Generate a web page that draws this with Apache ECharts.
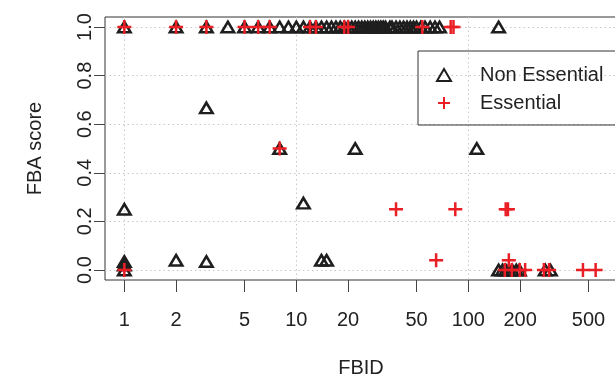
<!DOCTYPE html>
<html>
<head>
<meta charset="utf-8">
<script src="https://cdn.jsdelivr.net/npm/echarts@6/dist/echarts.min.js"></script>
<style>
  html, body { margin: 0; padding: 0; background: #fff; }
  #chart { width: 615px; height: 375px; }
</style>
</head>
<body>
<div id="chart"></div>
<script>
// FBID (log scale) and FBA score per group
var nonEssentialIds = [
  1, 2, 3, 4, 5, 6, 7, 8, 9, 10, 11, 12, 13, 14, 15, 16, 17, 18, 19, 20,
  21, 22, 23, 24, 25, 26, 27, 28, 29, 30, 31, 32, 33, 35, 36, 38, 40, 42,
  44, 46, 48, 50, 53, 56, 60, 64, 68, 150,
  1, 1, 1, 1, 2, 3, 3, 8, 11, 14, 15, 22, 112,
  150, 158, 165, 172, 180, 190, 198, 280, 300
];
var nonEssentialScores = [
  1, 1, 1, 1, 1, 1, 1, 1, 1, 1, 1, 1, 1, 1, 1, 1, 1, 1, 1, 1,
  1, 1, 1, 1, 1, 1, 1, 1, 1, 1, 1, 1, 1, 1, 1, 1, 1, 1,
  1, 1, 1, 1, 1, 1, 1, 1, 1, 1,
  0.25, 0.035, 0.02, 0, 0.04, 0.035, 0.667, 0.5, 0.275, 0.04, 0.04, 0.5, 0.5,
  0, 0, 0, 0, 0, 0, 0, 0, 0
];
var essentialIds = [
  1, 2, 3, 5, 6, 7, 12, 13, 19, 20, 54, 79, 82,
  1, 8, 38, 84, 165, 170, 65, 172,
  163, 179, 199, 214, 275, 295, 464, 550
];
var essentialScores = [
  1, 1, 1, 1, 1, 1, 1, 1, 1, 1, 1, 1, 1,
  0, 0.5, 0.25, 0.25, 0.25, 0.25, 0.04, 0.04,
  0, 0, 0, 0, 0, 0, 0, 0
];
var xTicks = [1, 2, 5, 10, 20, 50, 100, 200, 500];
var xGrid = [1, 10, 100];
var yTicks = [0, 0.2, 0.4, 0.6, 0.8, 1.0];

function pairs(xs, ys) {
  return xs.map(function (x, i) { return [x, ys[i]]; });
}

var chart = echarts.init(document.getElementById("chart"), null, { renderer: "canvas" });
var font = "Liberation Sans";
var dotted = { color: "#c8c8c8", width: 1, type: [1.5, 3] };

var option = {
  animation: false,
  textStyle: { fontFamily: font },
  grid: {
    left: 105, top: 17, width: 512, height: 263,
    outerBoundsMode: "none", containLabel: false,
    show: true, borderColor: "#333", borderWidth: 1
  },
  legend: {
    orient: "vertical",
    left: 418, top: 51,
    padding: [14, 20, 12, 18],
    itemWidth: 14, itemHeight: 12, itemGap: 8,
    borderColor: "#333", borderWidth: 1,
    textStyle: { fontSize: 20, color: "#222", fontFamily: font, padding: [0, 0, 0, 24] },
    data: ["Non Essential", "Essential"]
  },
  xAxis: [
    {
      type: "log", min: 0.772, max: 732, position: "bottom",
      name: "FBID", nameLocation: "middle", nameGap: 78,
      nameTextStyle: { fontSize: 20, color: "#222", fontFamily: font },
      axisLine: { show: false, onZero: false },
      axisTick: { customValues: xTicks, length: 12, lineStyle: { color: "#444" } },
      axisLabel: {
        customValues: xTicks, margin: 30, fontSize: 20, color: "#222", fontFamily: font,
        formatter: function (v) { return String(Math.round(v)); }
      },
      splitLine: { show: false }
    },
    {
      type: "log", min: 0.772, max: 732, position: "bottom",
      axisLine: { show: false, onZero: false },
      axisTick: { show: false, customValues: xGrid },
      axisLabel: { show: false, customValues: xGrid },
      splitLine: { show: true, customValues: xGrid, lineStyle: dotted }
    }
  ],
  yAxis: {
    type: "value", min: -0.0412, max: 1.0412,
    name: "FBA score", nameLocation: "middle", nameGap: 60, nameRotate: 90,
    nameTextStyle: { fontSize: 20, color: "#222", fontFamily: font },
    axisLine: { show: false, onZero: false },
    axisTick: { customValues: yTicks, length: 11, lineStyle: { color: "#444" } },
    axisLabel: {
      customValues: yTicks, rotate: 90, margin: 10, fontSize: 20, color: "#222", fontFamily: font,
      formatter: function (v) { return v.toFixed(1); }
    },
    splitLine: { show: true, lineStyle: dotted }
  },
  series: [
    {
      name: "Non Essential", type: "scatter", xAxisIndex: 0,
      symbol: "triangle", symbolSize: [12.5, 10.5],
      itemStyle: { color: "transparent", borderColor: "#1e1e1e", borderWidth: 2.5, opacity: 1 },
      data: pairs(nonEssentialIds, nonEssentialScores)
    },
    {
      name: "Essential", type: "scatter", xAxisIndex: 0,
      symbol: "path://M0,7H14M7,0V14", symbolSize: 14,
      itemStyle: { color: "transparent", borderColor: "#ea1f26", borderWidth: 2.5, opacity: 1 },
      data: pairs(essentialIds, essentialScores)
    }
  ]
};

chart.setOption(option);
</script>
</body>
</html>
